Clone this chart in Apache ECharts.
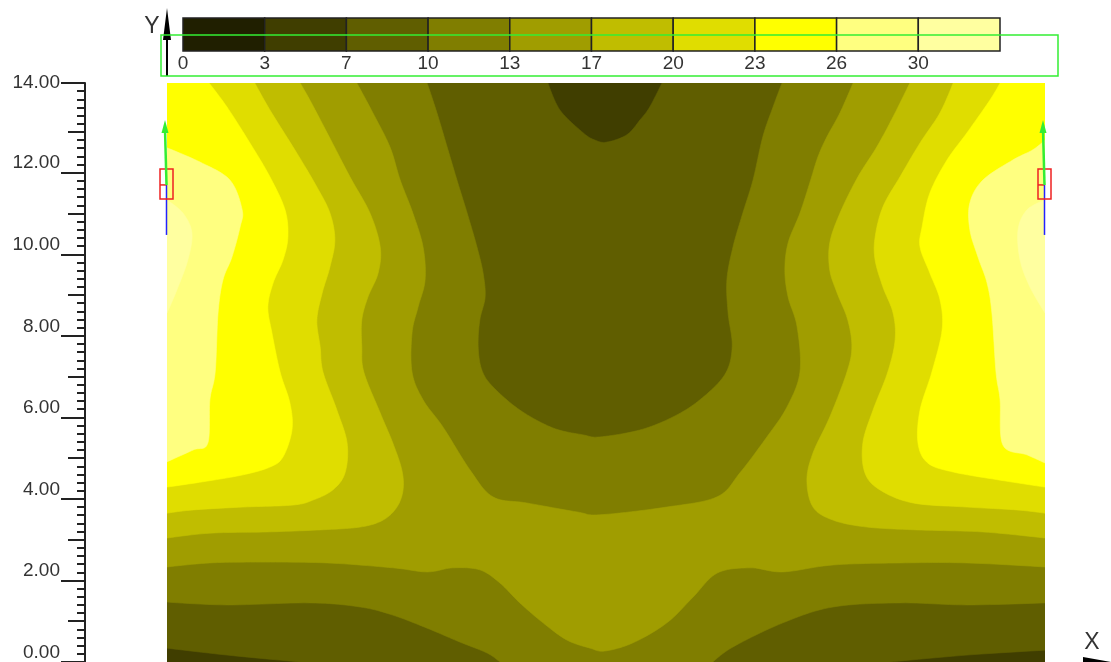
<!DOCTYPE html>
<html><head><meta charset="utf-8">
<script src="https://cdn.jsdelivr.net/npm/echarts@6/dist/echarts.min.js"></script>
<style>html,body{margin:0;padding:0;background:#fff}#c{width:1111px;height:662px}</style>
</head><body><div id="c"></div>
<script>
// ---------- data ----------
const thresholds = [0, 3, 7, 10, 13, 17, 20, 23, 26, 30];
const bandColors = ['#201f00','#403e00','#605e00','#807e00','#a09d00','#c0bd00','#e0dd00','#ffff00','#ffff80','#ffffa0'];
const yTickValues = [0, 2, 4, 6, 8, 10, 12, 14.2];
const yTickLabels = ['0.00','2.00','4.00','6.00','8.00','10.00','12.00','14.00'];
const yMidTicks = [1, 3, 5, 7, 9, 11, 13];
const X_MAX = 21.5, Y_MAX = 14.2;
const supports = [[0, 11.7], [21.5, 11.7]];

// superlevel regions (value >= level), polygons in data units
const ge3 = [[[0,0],[21.5,0],[21.5,14.2],[0,14.2]]];
const ge7 = [[[0,0.34],[1.47,0.17],[3.26,0],[17.70,0],[19.59,0.17],[21.5,0.29],[21.5,14.2],[12.12,14.2],[11.82,13.61],[11.58,13.29],[11.26,12.93],[10.77,12.75],[10.48,12.80],[10.19,12.98],[9.62,13.54],[9.33,14.2],[0,14.2]]];
const ge10 = [[[0,1.47],[1.47,1.40],[3.50,1.45],[4.73,1.35],[5.53,1.15],[6.37,0.83],[7.17,0.49],[7.84,0.22],[8.15,0],[13.37,0],[13.86,0.37],[15.08,0.96],[16.31,1.35],[17.95,1.45],[19.59,1.40],[21.5,1.45],[21.5,14.2],[15.06,14.2],[14.84,13.61],[14.59,12.88],[14.35,11.82],[14.10,11.01],[13.86,10.18],[13.71,9.37],[13.74,8.56],[13.84,7.73],[13.66,7.05],[13.05,6.43],[12.39,6.01],[11.58,5.69],[10.60,5.52],[10.19,5.57],[9.45,5.74],[8.64,6.18],[7.98,6.75],[7.71,7.16],[7.62,7.73],[7.66,8.39],[7.79,8.95],[7.74,9.54],[7.59,10.18],[7.35,11.01],[7.10,11.82],[6.86,12.63],[6.61,13.47],[6.37,14.2],[0,14.2]]];
const ge13 = [[[0,2.33],[1.05,2.43],[2.28,2.45],[3.92,2.43],[5.53,2.31],[6.37,2.21],[7.00,2.31],[7.66,2.26],[8.15,1.94],[8.64,1.45],[9.21,0.96],[9.79,0.54],[10.36,0.34],[10.72,0.27],[11.41,0.47],[12.24,0.96],[12.88,1.59],[13.47,2.18],[14.28,2.31],[15.08,2.21],[16.31,2.38],[17.95,2.43],[19.59,2.43],[21.5,2.33],[21.5,14.2],[16.80,14.2],[16.48,13.47],[16.16,12.88],[15.94,12.39],[15.74,11.75],[15.50,11.01],[15.21,10.28],[15.13,9.61],[15.21,8.95],[15.43,8.22],[15.50,7.11],[15.18,6.25],[14.69,5.52],[14.03,4.64],[13.47,4.05],[12.24,3.80],[10.60,3.61],[10.04,3.68],[8.81,3.90],[7.98,4.05],[7.42,4.71],[6.76,5.76],[6.27,6.43],[6.00,7.11],[6.00,8.07],[6.15,8.71],[6.32,9.37],[6.27,10.18],[6.02,11.01],[5.71,11.82],[5.46,12.63],[5.04,13.47],[4.65,14.2],[0,14.2]]];
const ge17 = [
  [[0,14.2],[3.26,14.2],[3.50,13.78],[3.92,12.98],[4.48,11.90],[4.97,11.01],[5.22,10.18],[5.17,9.54],[4.92,8.95],[4.77,8.39],[4.77,7.73],[4.82,7.11],[5.22,6.11],[5.53,5.37],[5.75,4.71],[5.78,4.22],[5.63,3.80],[5.29,3.48],[4.73,3.31],[3.75,3.24],[2.45,3.19],[1.05,3.16],[0,3.04]],
  [[21.5,14.2],[18.19,14.2],[17.78,13.37],[17.38,12.63],[16.92,11.90],[16.48,11.01],[16.23,10.28],[16.23,9.61],[16.41,9.05],[16.67,8.39],[16.77,7.73],[16.65,7.11],[16.23,6.01],[15.82,5.13],[15.67,4.46],[15.82,3.80],[16.31,3.48],[17.14,3.31],[18.36,3.24],[19.98,3.19],[21.5,3.04]]
];
const ge20 = [
  [[0,14.2],[2.15,14.2],[2.52,13.54],[3.18,12.48],[3.67,11.65],[3.99,11.01],[4.11,10.35],[3.99,9.69],[3.80,9.05],[3.67,8.39],[3.75,7.73],[3.82,7.11],[4.16,6.18],[4.41,5.37],[4.36,4.64],[4.06,4.22],[3.57,3.97],[3.09,3.85],[1.86,3.80],[0.64,3.73],[0,3.65]],
  [[21.5,14.2],[19.25,14.2],[18.93,13.47],[18.44,12.73],[17.95,11.90],[17.53,11.16],[17.34,10.42],[17.34,9.86],[17.53,9.20],[17.78,8.56],[17.83,7.90],[17.65,7.11],[17.29,6.18],[17.04,5.37],[17.09,4.64],[17.46,4.22],[18.27,3.90],[19.59,3.80],[20.81,3.73],[21.5,3.65]]
];
const ge23 = [
  [[0,14.2],[1.03,14.2],[1.47,13.61],[2.03,12.73],[2.52,11.90],[2.89,11.09],[2.96,10.42],[2.84,9.86],[2.60,9.30],[2.47,8.71],[2.57,8.07],[2.77,7.11],[3.01,6.35],[3.06,5.69],[2.84,5.03],[2.52,4.78],[1.86,4.59],[0.88,4.42],[0,4.29]],
  [[21.5,14.2],[20.40,14.2],[20.15,13.78],[19.59,12.98],[19.10,12.31],[18.68,11.50],[18.49,10.67],[18.44,10.18],[18.68,9.54],[18.93,8.88],[18.98,8.14],[18.73,7.11],[18.44,6.18],[18.39,5.37],[18.63,4.88],[19.25,4.66],[20.40,4.46],[21.5,4.29]]
];
const ge26 = [
  [[0,12.61],[0.81,12.26],[1.54,11.82],[1.84,11.09],[1.79,10.67],[1.59,9.93],[1.37,9.37],[1.25,8.56],[1.18,7.11],[1.05,6.43],[1.00,5.37],[0.64,5.20],[0,4.91]],
  [[21.5,12.80],[21.20,12.56],[20.71,12.31],[19.98,11.82],[19.66,11.26],[19.66,10.60],[19.86,9.93],[20.08,9.30],[20.20,8.56],[20.30,7.11],[20.40,6.43],[20.47,5.32],[21.06,5.08],[21.5,4.88]]
];
const ge30 = [
  [[0,11.33],[0.39,11.01],[0.61,10.52],[0.51,9.86],[0.24,9.12],[0,8.56]],
  [[21.5,11.33],[21.06,11.09],[20.84,10.60],[20.89,9.86],[21.13,9.20],[21.5,8.56]]
];

// ---------- build ----------
const regions = [ge3, ge7, ge10, ge13, ge17, ge20, ge23, ge26, ge30];
const contourItems = [];
regions.forEach((polys, li) => polys.forEach((p, pi) => contourItems.push([li + 1, pi])));
const legendItems = thresholds.map((t, i) => [i]);
const FONT = "'Liberation Sans', Arial, sans-serif";
const TXT = '#333';

// closed Catmull-Rom through the read points; vertices lying on the plot border stay sharp
function smoothRing(pts, sharp) {
  const n = pts.length, out = [];
  for (let i = 0; i < n; i++) {
    const i0 = (i - 1 + n) % n, i2 = (i + 1) % n, i3 = (i + 2) % n;
    const p0 = pts[i0], p1 = pts[i], p2 = pts[i2], p3 = pts[i3];
    out.push(p1);
    if (sharp[i] && sharp[i2]) continue;
    const t1 = sharp[i] ? [0, 0] : [(p2[0] - p0[0]) / 6, (p2[1] - p0[1]) / 6];
    const t2 = sharp[i2] ? [0, 0] : [(p3[0] - p1[0]) / 6, (p3[1] - p1[1]) / 6];
    const c1 = [p1[0] + t1[0], p1[1] + t1[1]], c2 = [p2[0] - t2[0], p2[1] - t2[1]];
    for (let k = 1; k < 12; k++) {
      const t = k / 12, u = 1 - t;
      const a = u * u * u, b = 3 * u * u * t, c = 3 * u * t * t, d = t * t * t;
      out.push([a * p1[0] + b * c1[0] + c * c2[0] + d * p2[0], a * p1[1] + b * c1[1] + c * c2[1] + d * p2[1]]);
    }
  }
  return out;
}

const chart = echarts.init(document.getElementById('c'), null, {renderer: 'canvas'});
const tickLine = {color: '#222', width: 2};
const yBase = {gridIndex: 0, type: 'value', min: 0, max: Y_MAX, position: 'left', offset: 82, splitLine: {show: false}};
chart.setOption({
  animation: false,
  backgroundColor: '#fff',
  grid: [
    {left: 167, top: 83, width: 878, height: 579},
    {left: 183, top: 18, width: 817, height: 33}
  ],
  xAxis: [
    {gridIndex: 0, type: 'value', min: 0, max: X_MAX, show: false},
    {gridIndex: 1, type: 'value', min: 0, max: 10, interval: 1,
     axisLine: {show: false}, axisTick: {show: false}, splitLine: {show: false},
     axisLabel: {customValues: legendItems.map(d => d[0]), formatter: v => String(thresholds[v]),
       fontSize: 19, color: TXT, margin: 3, fontFamily: FONT}}
  ],
  yAxis: [
    Object.assign({}, yBase, {
     axisLine: {show: true, onZero: false, lineStyle: tickLine},
     axisTick: {show: true, customValues: yTickValues, length: 24, lineStyle: tickLine},
     axisLabel: {customValues: yTickValues.slice(0, -1), formatter: v => yTickLabels[yTickValues.indexOf(v)],
       fontSize: 19, color: TXT, margin: 25, fontFamily: FONT, verticalAlign: 'bottom'}}),
    Object.assign({}, yBase, {
     axisLine: {show: false, onZero: false}, axisTick: {show: true, customValues: yMidTicks, length: 17, lineStyle: tickLine},
     axisLabel: {show: false}}),
    Object.assign({}, yBase, {interval: 0.2,
     axisLine: {show: false, onZero: false}, axisTick: {show: true, length: 8, lineStyle: tickLine},
     axisLabel: {show: false}}),
    Object.assign({}, yBase, {
     axisLine: {show: false, onZero: false}, axisTick: {show: false},
     axisLabel: {customValues: [yTickValues[yTickValues.length - 1]], formatter: () => yTickLabels[yTickLabels.length - 1],
       fontSize: 19, color: TXT, margin: 25, fontFamily: FONT, verticalAlign: 'middle', padding: [0, 0, 6, 0]}}),
    {gridIndex: 1, type: 'value', min: 0, max: 1, show: false}
  ],
  series: [
    {
      type: 'custom', xAxisIndex: 0, yAxisIndex: 0, clip: true, silent: true,
      data: contourItems,
      renderItem: function (params, api) {
        const band = api.value(0), pi = api.value(1);
        const poly = regions[band - 1][pi];
        const sharp = poly.map(p => p[0] === 0 || p[0] === X_MAX || p[1] === 0 || p[1] === Y_MAX);
        const pts = smoothRing(poly.map(p => api.coord(p)), sharp);
        const col = bandColors[band];
        return {type: 'polygon', shape: {points: pts}, style: {fill: col, stroke: col, lineWidth: 0.6}};
      }
    },
    {
      type: 'custom', xAxisIndex: 1, yAxisIndex: 4, silent: true,
      data: legendItems,
      renderItem: function (params, api) {
        const i = api.value(0);
        const a = api.coord([i, 1]), b = api.coord([i + 1, 0]);
        return {type: 'rect', shape: {x: a[0], y: a[1], width: b[0] - a[0], height: b[1] - a[1]},
          style: {fill: bandColors[i], stroke: '#222', lineWidth: 1.5}};
      }
    }
  ]
});

// ---------- annotations ----------
const g = [];
const gl = chart.convertToPixel({gridIndex: 0}, [0, Y_MAX]);
g.push({type: 'line', shape: {x1: gl[0], y1: 38, x2: gl[0], y2: 76}, style: {stroke: '#000', lineWidth: 2}, z: 20});
g.push({type: 'polygon', shape: {points: [[gl[0], 8], [gl[0] - 4, 40], [gl[0] + 4, 40]]}, style: {fill: '#000'}, z: 20});
g.push({type: 'text', x: 152, y: 27, style: {text: 'Y', fontSize: 23, fill: TXT, fontFamily: FONT, align: 'center', verticalAlign: 'middle'}, z: 20});
g.push({type: 'text', x: 1092, y: 643, style: {text: 'X', fontSize: 23, fill: TXT, fontFamily: FONT, align: 'center', verticalAlign: 'middle'}, z: 20});
g.push({type: 'polygon', shape: {points: [[1083, 657], [1111, 662], [1083, 667]]}, style: {fill: '#000'}, z: 20});
g.push({type: 'rect', shape: {x: 161, y: 35, width: 897, height: 41}, style: {fill: 'none', stroke: '#33ee33', lineWidth: 1.5}, z: 30});
supports.forEach(s => {
  const p = chart.convertToPixel({gridIndex: 0}, s);
  const x = Math.round(p[0]) - 0.5, y = p[1];
  g.push({type: 'line', shape: {x1: x, y1: y, x2: x, y2: y + 50}, style: {stroke: '#2222ff', lineWidth: 1.5}, z: 30});
  g.push({type: 'rect', shape: {x: x - 6.5, y: y - 16, width: 13, height: 30}, style: {fill: 'none', stroke: '#ee2222', lineWidth: 1.5}, z: 30});
  g.push({type: 'line', shape: {x1: x - 6.5, y1: y, x2: x, y2: y}, style: {stroke: '#ee2222', lineWidth: 1.5}, z: 30});
  g.push({type: 'line', shape: {x1: x, y1: y, x2: x - 1.5, y2: y - 56}, style: {stroke: '#33ee33', lineWidth: 2.5}, z: 31});
  g.push({type: 'polygon', shape: {points: [[x - 1.5, y - 65], [x - 5, y - 52], [x + 2, y - 52]]}, style: {fill: '#33ee33'}, z: 31});
});
chart.setOption({graphic: g});
</script>
</body></html>
